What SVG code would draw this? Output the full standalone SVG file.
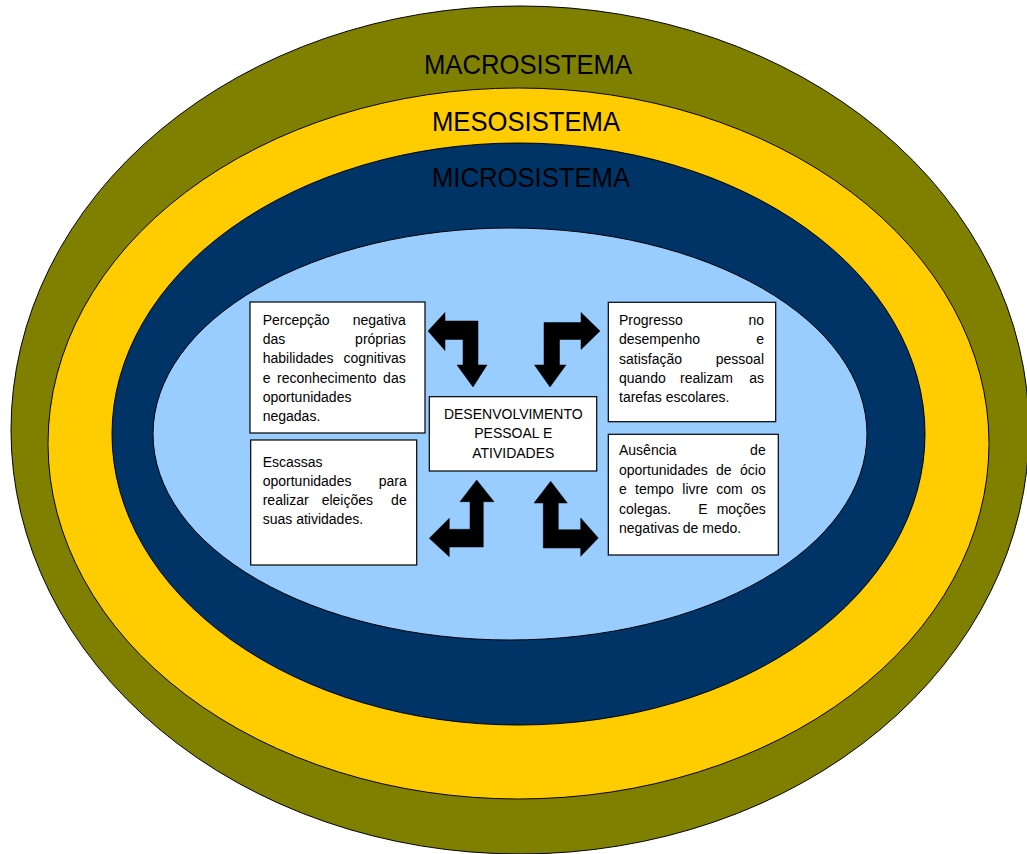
<svg xmlns="http://www.w3.org/2000/svg" width="1027" height="854" viewBox="0 0 1027 854">
<style>
.ring{stroke:#000;stroke-width:1}
.title{font-family:"Liberation Sans",Arial,sans-serif;font-size:28px;fill:#000;text-anchor:middle}
.box{fill:#fff;stroke:#000;stroke-width:1.2}
.t{font-family:"Liberation Sans",Arial,sans-serif;font-size:14px;fill:#000}
.e{text-anchor:end}
.c{text-anchor:middle}
.arrow{fill:#000;stroke:#000;stroke-width:0.5}
</style>
<rect width="1027" height="854" fill="#fff"/>
<g id="macrosistema">
<ellipse class="ring" cx="520" cy="430" rx="509" ry="424" fill="#808000"/>
<text class="title" x="528" y="74" textLength="208" lengthAdjust="spacingAndGlyphs">MACROSISTEMA</text>
</g>
<g id="mesosistema">
<ellipse class="ring" cx="518.5" cy="443.5" rx="470.5" ry="355.5" fill="#FFCC00"/>
<text class="title" x="526" y="131" textLength="188" lengthAdjust="spacingAndGlyphs">MESOSISTEMA</text>
</g>
<g id="microsistema">
<ellipse class="ring" cx="518.5" cy="434" rx="406.5" ry="291" fill="#003366"/>
<text class="title" x="531" y="187" textLength="198" lengthAdjust="spacingAndGlyphs">MICROSISTEMA</text>
</g>
<g id="inner">
<ellipse class="ring" cx="510" cy="434" rx="357" ry="206" fill="#99CCFF"/>
</g>
<g id="connectors">
<path class="arrow" d="M428,331 L445,312.5 L445,321 L478,321 L478,365 L487,365 L473,387 L457,365 L463,365 L463,339.5 L445,339.5 L445,350.5 Z"/>
<path class="arrow" d="M600,331 L581,312.5 L581,322.5 L544,322.5 L544,365 L534.5,365 L550,387 L566,365 L559.5,365 L559.5,339.5 L581,339.5 L581,349.5 Z"/>
<path class="arrow" d="M476.7,480 L494,501.7 L483.3,501.7 L483.3,547 L449.3,547 L449.3,556.7 L429.3,538.3 L449.3,518.3 L449.3,529.3 L470,529.3 L470,501.7 L460,501.7 Z"/>
<path class="arrow" d="M550.7,481.3 L567.3,503 L558.3,503 L558.3,529.7 L580.7,529.7 L580.7,518 L598.3,538 L580.7,556.3 L580.7,548 L543.3,548 L543.3,503 L534,503 Z"/>
</g>
<g id="center">
<rect class="box" x="429.3" y="396.7" width="167.4" height="74.3"/>
<text class="t c" x="513.3" y="419">DESENVOLVIMENTO</text>
<text class="t c" x="513.3" y="438.3">PESSOAL E</text>
<text class="t c" x="513.3" y="457.7">ATIVIDADES</text>
</g>
<g id="box-top-left">
<rect class="box" x="250" y="302" width="175" height="131"/>
<text class="t" x="262.7" y="325">Percepção</text><text class="t e" x="405.7" y="325">negativa</text>
<text class="t" x="262.7" y="344.2">das</text><text class="t e" x="405.7" y="344.2">próprias</text>
<text class="t" x="262.7" y="363.4">habilidades</text><text class="t e" x="405.7" y="363.4">cognitivas</text>
<text class="t" x="262.7" y="382.6">e</text><text class="t" x="277" y="382.6">reconhecimento</text><text class="t e" x="405.7" y="382.6">das</text>
<text class="t" x="262.7" y="401.8">oportunidades</text>
<text class="t" x="262.7" y="421">negadas.</text>
</g>
<g id="box-bottom-left">
<rect class="box" x="250.7" y="440" width="166" height="125"/>
<text class="t" x="262.7" y="466.7">Escassas</text>
<text class="t" x="262.7" y="485.7">oportunidades</text><text class="t e" x="406.7" y="485.7">para</text>
<text class="t" x="262.7" y="505">realizar</text><text class="t" x="321.7" y="505">eleições</text><text class="t e" x="406.7" y="505">de</text>
<text class="t" x="262.7" y="524.3">suas atividades.</text>
</g>
<g id="box-top-right">
<rect class="box" x="608.3" y="302.3" width="167.4" height="119.4"/>
<text class="t" x="619" y="325">Progresso</text><text class="t e" x="764" y="325">no</text>
<text class="t" x="619" y="344.3">desempenho</text><text class="t e" x="764" y="344.3">e</text>
<text class="t" x="619" y="364">satisfação</text><text class="t e" x="764" y="364">pessoal</text>
<text class="t" x="619" y="383.3">quando</text><text class="t" x="680" y="383.3">realizam</text><text class="t e" x="764" y="383.3">as</text>
<text class="t" x="619" y="402.3">tarefas escolares.</text>
</g>
<g id="box-bottom-right">
<rect class="box" x="608.3" y="434.3" width="170" height="120.7"/>
<text class="t" x="619" y="455">Ausência</text><text class="t e" x="765.7" y="455">de</text>
<text class="t" x="619" y="475">oportunidades</text><text class="t" x="716" y="475">de</text><text class="t e" x="765.7" y="475">ócio</text>
<text class="t" x="619" y="494.3">e</text><text class="t" x="635" y="494.3">tempo</text><text class="t" x="682.3" y="494.3">livre</text><text class="t" x="716.3" y="494.3">com</text><text class="t e" x="765.7" y="494.3">os</text>
<text class="t" x="619" y="514">colegas.</text><text class="t" x="698.3" y="514">E</text><text class="t e" x="765.7" y="514">moções</text>
<text class="t" x="619" y="533.3">negativas de medo.</text>
</g>
</svg>
